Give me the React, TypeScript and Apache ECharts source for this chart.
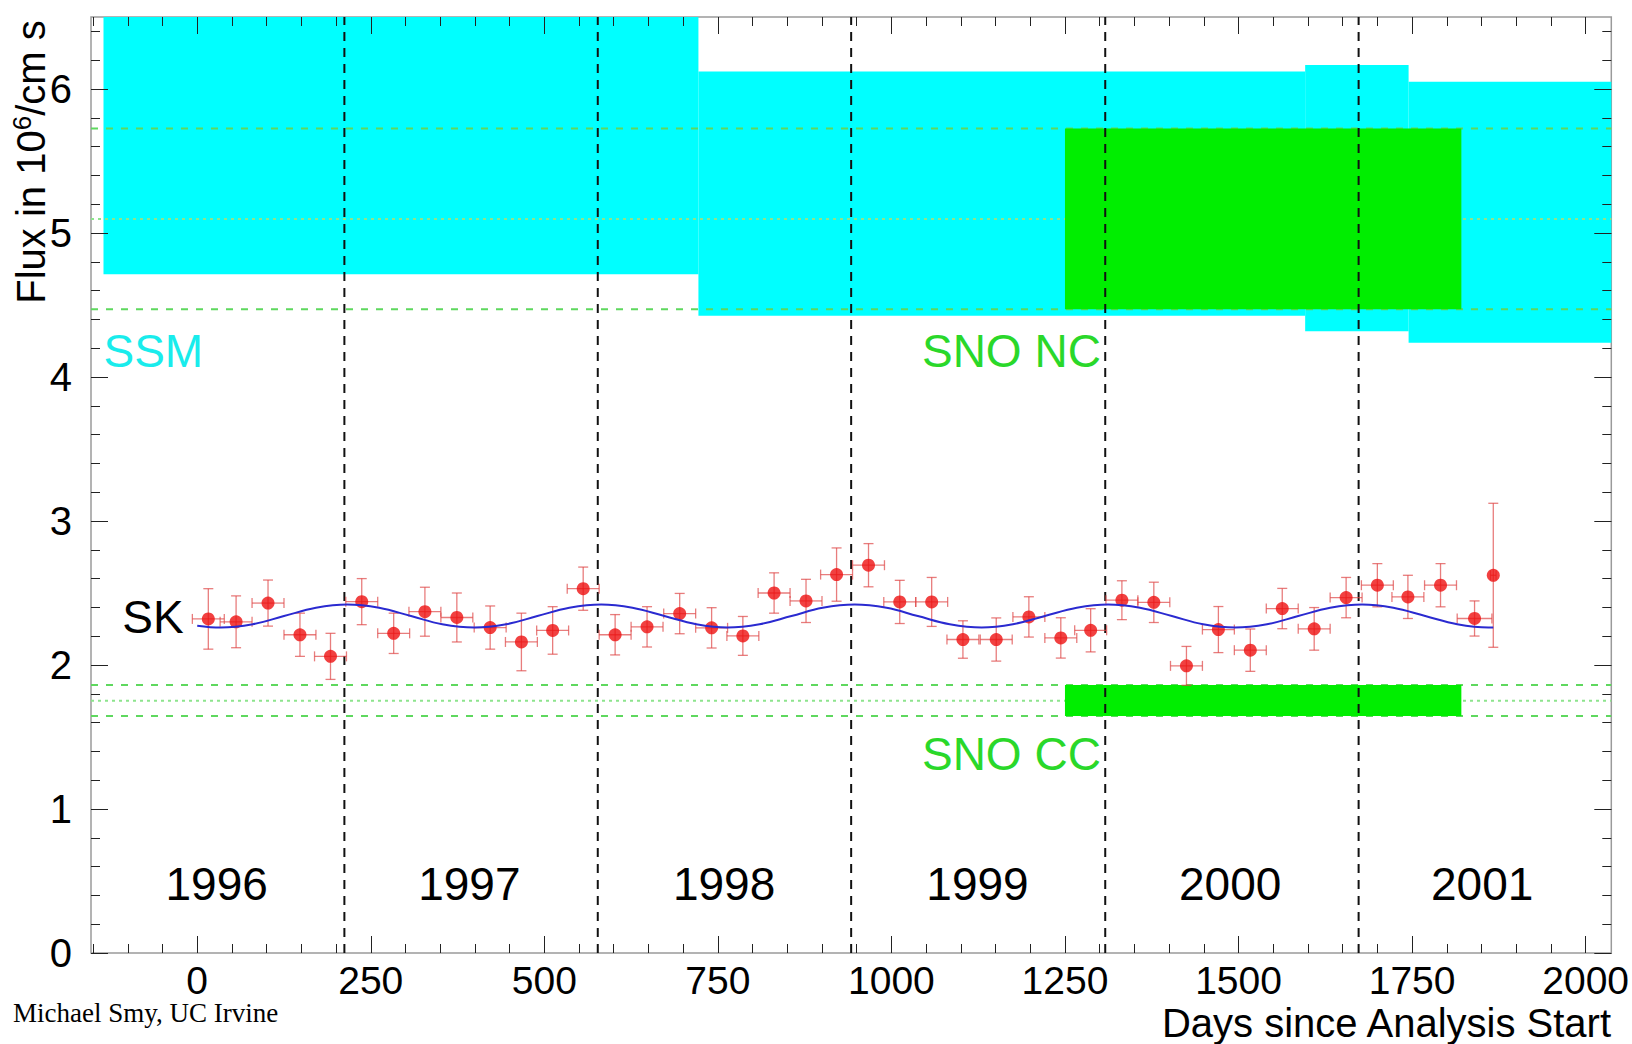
import React, { useEffect, useRef } from 'react';
import * as echarts from 'echarts';

const X_MIN = -153;
const X_MAX = 2037;
const Y_MIN = 0;
const Y_MAX = 6.5;

const xTickValues = [0, 250, 500, 750, 1000, 1250, 1500, 1750, 2000];
const yTickValues = [0, 1, 2, 3, 4, 5, 6];

// Super-Kamiokande flux points
const skDays = [16, 56, 102, 148, 192, 237, 283, 328, 374, 422, 467, 512, 556, 602, 648, 695, 741, 786, 831, 877, 921, 967, 1012, 1058, 1103, 1151, 1198, 1244, 1287, 1332, 1378, 1425, 1471, 1517, 1563, 1609, 1655, 1700, 1744, 1791, 1840, 1867];
const skFlux = [2.32, 2.30, 2.43, 2.21, 2.06, 2.44, 2.22, 2.37, 2.33, 2.26, 2.16, 2.24, 2.53, 2.21, 2.265, 2.357, 2.258, 2.202, 2.50, 2.445, 2.628, 2.693, 2.438, 2.438, 2.177, 2.177, 2.334, 2.188, 2.241, 2.45, 2.435, 1.994, 2.246, 2.103, 2.392, 2.251, 2.468, 2.554, 2.473, 2.554, 2.323, 2.623];
const skFluxErr = [0.21, 0.18, 0.16, 0.15, 0.16, 0.16, 0.14, 0.17, 0.17, 0.15, 0.2, 0.165, 0.15, 0.14, 0.14, 0.14, 0.14, 0.135, 0.14, 0.15, 0.185, 0.15, 0.15, 0.17, 0.13, 0.15, 0.14, 0.14, 0.15, 0.135, 0.14, 0.135, 0.16, 0.147, 0.14, 0.148, 0.14, 0.15, 0.15, 0.15, 0.122, 0.5];
const skDayErr = [23, 23, 23, 23, 23, 23, 23, 23, 23, 23, 23, 23, 23, 23, 23, 23, 23, 23, 23, 23, 23, 23, 23, 23, 23, 23, 23, 23, 23, 23, 23, 23, 23, 23, 23, 23, 23, 23, 23, 23, 25, 4];

// Expected seasonal (1/r^2) curve
const seasonDays = [0, 34, 80, 125, 171, 216, 262, 308, 353, 399, 445, 490, 536, 582, 627, 673, 719, 764, 810, 856, 901, 947, 993, 1038, 1084, 1130, 1175, 1221, 1267, 1312, 1358, 1404, 1449, 1495, 1541, 1586, 1632, 1678, 1723, 1769, 1815, 1860, 1867];
const seasonFlux = [2.273, 2.26, 2.283, 2.34, 2.397, 2.42, 2.397, 2.34, 2.283, 2.26, 2.283, 2.34, 2.397, 2.42, 2.397, 2.34, 2.283, 2.26, 2.283, 2.34, 2.397, 2.42, 2.397, 2.34, 2.283, 2.26, 2.283, 2.34, 2.397, 2.42, 2.397, 2.34, 2.283, 2.26, 2.283, 2.34, 2.397, 2.42, 2.397, 2.34, 2.283, 2.26, 2.26];

// SSM prediction bands
const ssmStart = [-135, 722, 1596, 1745];
const ssmEnd = [722, 1596, 1745, 2037];
const ssmLow = [4.714, 4.425, 4.317, 4.237];
const ssmHigh = [6.5, 6.122, 6.166, 6.05];

// SNO measurements
const snoStart = 1250;
const snoEnd = 1821;
const snoNames = ['NC', 'CC'];
const snoLow = [4.47, 1.646];
const snoCentral = [5.097, 1.752];
const snoHigh = [5.725, 1.861];

const yearBoundaries = [212, 577, 942, 1308, 1673];
const yearLabels = ['1996', '1997', '1998', '1999', '2000', '2001'];
const yearLabelDays = [28, 392, 759, 1124, 1488, 1851];
const yearLabelFlux = 0.48;

const annotationTexts = ['SSM', 'SNO NC', 'SNO CC', 'SK'];
const annotationDays = [-135, 1044, 1044, -108];
const annotationFlux = [4.18, 4.18, 1.384, 2.33];
const annotationColors = ['#19ecec', '#2ad82a', '#2ad82a', '#000000'];

const FONT = 'Liberation Sans, Arial, Helvetica, sans-serif';

function minorTicks(step: number, lo: number, hi: number) {
  const out: number[] = [];
  const start = Math.ceil(lo / step) * step;
  for (let v = start; v <= hi + 1e-9; v += step) out.push(Math.round(v * 1000) / 1000);
  return out;
}

export default function App() {
  const ref = useRef<HTMLDivElement>(null);
  useEffect(() => {
    if (!ref.current) return;
    const chart = echarts.init(ref.current, undefined, { renderer: 'svg' });

    const tickStyle = { color: '#222', width: 1 };
    const xMinor = minorTicks(50, X_MIN, X_MAX);
    const yMinor = minorTicks(0.2, Y_MIN, Y_MAX);
    const plain = (v: number) => String(v);

    const mkX = (position: 'top' | 'bottom', values: number[], len: number, labels: boolean) => ({
      type: 'value', position, min: X_MIN, max: X_MAX, z: 10,
      axisLine: { show: false, onZero: false },
      splitLine: { show: false },
      axisTick: { show: true, inside: true, length: len, customValues: values, lineStyle: tickStyle },
      axisLabel: labels
        ? { show: true, customValues: xTickValues, formatter: plain, fontSize: 39, fontFamily: FONT, color: '#000', margin: 8 }
        : { show: false },
    });
    const mkY = (position: 'left' | 'right', values: number[], len: number, labels: boolean) => ({
      type: 'value', position, min: Y_MIN, max: Y_MAX, z: 10,
      axisLine: { show: false, onZero: false },
      splitLine: { show: false },
      axisTick: { show: true, inside: true, length: len, customValues: values, lineStyle: tickStyle },
      axisLabel: labels
        ? { show: true, customValues: yTickValues, formatter: plain, fontSize: 40, fontFamily: FONT, color: '#000', margin: 19 }
        : { show: false },
    });

    const rectRender = (fill: string) => (params: any, api: any) => {
      const a = api.coord([api.value(0), api.value(3)]);
      const b = api.coord([api.value(1), api.value(2)]);
      return {
        type: 'rect',
        shape: { x: a[0], y: a[1], width: b[0] - a[0], height: b[1] - a[1] },
        style: { fill },
      };
    };

    const ssmData = ssmStart.map((s, i) => [s, ssmEnd[i], ssmLow[i], ssmHigh[i]]);
    const snoData = snoNames.map((_, i) => [snoStart, snoEnd, snoLow[i], snoHigh[i]]);

    const hLine = (y: number, dash: number[], color: string, width: number) => ({
      type: 'line', xAxisIndex: 0, yAxisIndex: 0, z: 2, silent: true, symbol: 'none',
      data: [[X_MIN, y], [X_MAX, y]],
      lineStyle: { color, width, type: dash },
    });

    const errData = skDays.map((d, i) => [d, skFlux[i], skDayErr[i], skFluxErr[i]]);

    const textRender = (params: any, api: any) => {
      const p = api.coord([api.value(0), api.value(1)]);
      const i = params.dataIndex;
      return { type: 'text', x: p[0], y: p[1] };
    };

    const option: any = {
      animation: false,
      backgroundColor: '#ffffff',
      grid: { left: 91, right: 19, top: 17, bottom: 91, show: true, borderColor: '#9a9a9a', borderWidth: 1.5, backgroundColor: 'transparent', z: 0 },
      xAxis: [
        mkX('bottom', xTickValues, 17, true),
        mkX('bottom', xMinor, 9, false),
        mkX('top', xTickValues, 17, false),
        mkX('top', xMinor, 9, false),
      ],
      yAxis: [
        mkY('left', yTickValues, 17, true),
        mkY('left', yMinor, 9, false),
        mkY('right', yTickValues, 17, false),
        mkY('right', yMinor, 9, false),
      ],
      series: [
        {
          type: 'custom', xAxisIndex: 0, yAxisIndex: 0, z: 1, silent: true, clip: true,
          renderItem: rectRender('#00ffff'), data: ssmData, encode: { x: [0, 1], y: [2, 3] },
        },
        hLine(snoHigh[0], [7, 8], '#5ed85e', 2),
        hLine(snoCentral[0], [3, 4], '#8de48d', 2),
        hLine(snoLow[0], [7, 8], '#5ed85e', 2),
        hLine(snoHigh[1], [7, 8], '#5ed85e', 2),
        hLine(snoCentral[1], [3, 4], '#8de48d', 2),
        hLine(snoLow[1], [7, 8], '#5ed85e', 2),
        {
          type: 'custom', xAxisIndex: 0, yAxisIndex: 0, z: 3, silent: true, clip: true,
          renderItem: rectRender('#00ee00'), data: snoData, encode: { x: [0, 1], y: [2, 3] },
        },
        {
          type: 'custom', xAxisIndex: 0, yAxisIndex: 0, z: 4, silent: true, clip: true,
          data: yearBoundaries.map((d) => [d]),
          encode: { x: 0 },
          renderItem: (params: any, api: any) => {
            const x = api.value(0);
            const a = api.coord([x, Y_MIN]);
            const b = api.coord([x, Y_MAX]);
            return {
              type: 'line',
              shape: { x1: a[0], y1: a[1], x2: b[0], y2: b[1] },
              style: { stroke: '#111', lineWidth: 2, lineDash: [9, 7] },
            };
          },
        },
        {
          type: 'custom', xAxisIndex: 0, yAxisIndex: 0, z: 5, silent: true,
          data: errData, encode: { x: 0, y: 1 },
          renderItem: (params: any, api: any) => {
            const x = api.value(0), y = api.value(1), ex = api.value(2), ey = api.value(3);
            const t = api.coord([x, y + ey]);
            const bt = api.coord([x, y - ey]);
            const l = api.coord([x - ex, y]);
            const r = api.coord([x + ex, y]);
            const cap = 5;
            const style = { stroke: 'rgba(222,70,70,0.7)', lineWidth: 1.3 };
            const ln = (x1: number, y1: number, x2: number, y2: number) => ({ type: 'line', shape: { x1, y1, x2, y2 }, style });
            return {
              type: 'group',
              children: [
                ln(t[0], t[1], bt[0], bt[1]),
                ln(l[0], l[1], r[0], r[1]),
                ln(t[0] - cap, t[1], t[0] + cap, t[1]),
                ln(bt[0] - cap, bt[1], bt[0] + cap, bt[1]),
                ln(l[0], l[1] - cap, l[0], l[1] + cap),
                ln(r[0], r[1] - cap, r[0], r[1] + cap),
              ],
            };
          },
        },
        {
          type: 'scatter', xAxisIndex: 0, yAxisIndex: 0, z: 6, silent: true,
          symbol: 'circle', symbolSize: 13,
          itemStyle: { color: '#ee1111' },
          data: skDays.map((d, i) => [d, skFlux[i]]),
        },
        {
          type: 'line', xAxisIndex: 0, yAxisIndex: 0, z: 7, silent: true,
          symbol: 'none', smooth: 0.4,
          lineStyle: { color: '#2a2ad0', width: 2 },
          data: seasonDays.map((d, i) => [d, seasonFlux[i]]),
        },
        {
          type: 'custom', xAxisIndex: 0, yAxisIndex: 0, z: 8, silent: true,
          data: yearLabelDays.map((d) => [d, yearLabelFlux]),
          encode: { x: 0, y: 1 },
          renderItem: (params: any, api: any) => {
            const p = api.coord([api.value(0), api.value(1)]);
            return {
              type: 'text', x: p[0], y: p[1],
              style: { text: yearLabels[params.dataIndex], font: `46px ${FONT}`, fill: '#000', align: 'center', verticalAlign: 'middle' },
            };
          },
        },
        {
          type: 'custom', xAxisIndex: 0, yAxisIndex: 0, z: 8, silent: true,
          data: annotationDays.map((d, i) => [d, annotationFlux[i]]),
          encode: { x: 0, y: 1 },
          renderItem: (params: any, api: any) => {
            const p = api.coord([api.value(0), api.value(1)]);
            const i = params.dataIndex;
            return {
              type: 'text', x: p[0], y: p[1],
              style: { text: annotationTexts[i], font: `46px ${FONT}`, fill: annotationColors[i], align: 'left', verticalAlign: 'middle' },
            };
          },
        },
      ],
      graphic: [
        {
          type: 'text', x: 31, y: 162, rotation: Math.PI / 2, z: 20,
          style: {
            text: '{a|Flux in 10}{b|6}{a|/cm s}',
            align: 'center', verticalAlign: 'middle',
            rich: {
              a: { fontSize: 40, fontFamily: FONT, fill: '#000', lineHeight: 44 },
              b: { fontSize: 26, fontFamily: FONT, fill: '#000', lineHeight: 26, verticalAlign: 'top' },
            },
          },
        },
        {
          type: 'text', x: 1611, y: 1023, z: 20,
          style: { text: 'Days since Analysis Start', font: `40px ${FONT}`, fill: '#000', align: 'right', verticalAlign: 'middle' },
        },
        {
          type: 'text', x: 13, y: 1013, z: 20,
          style: { text: 'Michael Smy, UC Irvine', font: '27px Liberation Serif, Times New Roman, serif', fill: '#000', align: 'left', verticalAlign: 'middle' },
        },
      ],
    };
    chart.setOption(option);
    return () => chart.dispose();
  }, []);
  return <div ref={ref} style={{ position: 'absolute', left: 0, top: 0, width: 1632, height: 1044 }} />;
}
